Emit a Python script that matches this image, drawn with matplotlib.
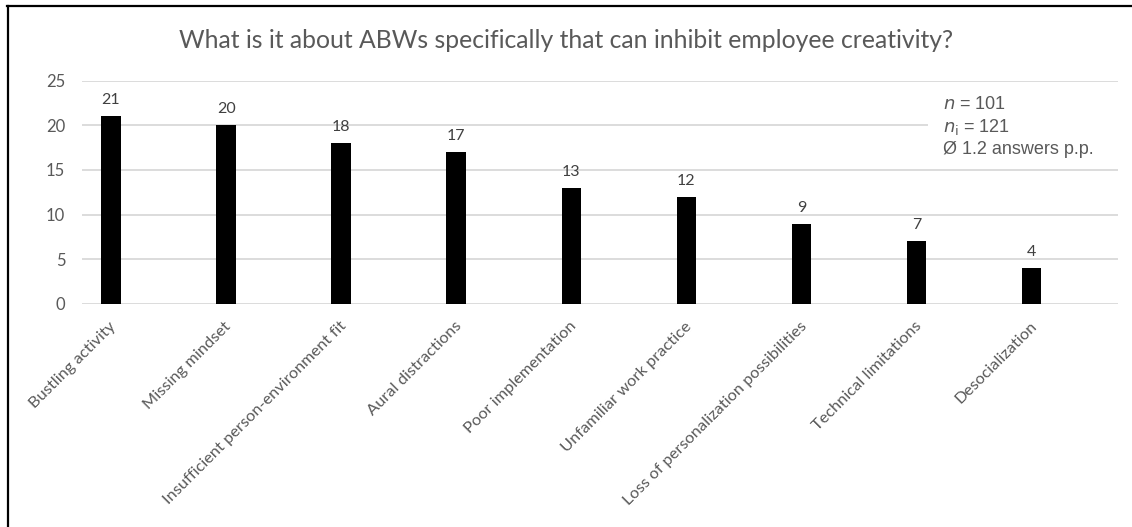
import matplotlib.pyplot as plt
from matplotlib.patches import Rectangle
from matplotlib.lines import Line2D
from matplotlib.transforms import ScaledTranslation

plt.rcParams['font.family'] = ['Lato', 'DejaVu Sans']

categories = ["Bustling activity", "Missing mindset", "Insufficient person-environment fit",
              "Aural distractions", "Poor implementation", "Unfamiliar work practice",
              "Loss of personalization possibilities", "Technical limitations", "Desocialization"]
counts = [21, 20, 18, 17, 13, 12, 9, 7, 4]
yticks = [0, 5, 10, 15, 20, 25]

W, H = 1132, 527
fig = plt.figure(figsize=(W / 100, H / 100), dpi=100)
ax = fig.add_axes([82 / W, 1 - 304 / H, (1118 - 82) / W, (304 - 80.5) / H])

x = list(range(len(categories)))
ax.bar(x, counts, width=0.17, color='black', zorder=3)
for xi, v in zip(x, counts):
    ax.text(xi, v + 1.0, str(v), ha='center', va='bottom', fontsize=11.5, color='#404040')

# first bar sits close to the left end, plot area runs on past the last one
ax.set_xlim(-0.252, len(categories) - 1 + 0.75)
ax.set_ylim(0, 25)
ax.set_yticks(yticks)
ax.yaxis.grid(True, color='#d9d9d9', linewidth=1.3, zorder=0)
ax.tick_params(axis='both', length=0, colors='#595959')
ax.tick_params(axis='y', pad=12, labelsize=12)
ax.tick_params(axis='x', pad=11, labelsize=11.8)
ax.set_xticks(x)
ax.set_xticklabels(categories, rotation=45, ha='right', rotation_mode='anchor')
for lab in ax.get_xticklabels():
    lab.set_transform(lab.get_transform() + ScaledTranslation(-2 / 100, 0, fig.dpi_scale_trans))
for s in ax.spines.values():
    s.set_visible(False)

# white box behind the sample note (hides the 20 gridline)
ax.add_patch(Rectangle((0.8164, 0.70), 0.19, 0.22, transform=ax.transAxes,
                       facecolor='white', edgecolor='none', zorder=4, clip_on=False))
ax.text(0.831, 0.792, "$n$ = 101\n$n_\\mathrm{i}$ = 121\nØ 1.2 answers p.p.",
        transform=ax.transAxes, ha='left', va='center', fontsize=13, color='#595959',
        family='Liberation Sans', linespacing=1.3, zorder=5)

fig.text(0.5, 1 - 48 / H, "What is it about ABWs specifically that can inhibit employee creativity?",
         ha='center', va='baseline', fontsize=17.8, color='#595959')

# frame: only top and left edges show
fig.add_artist(Line2D([7 / W, 1], [1 - 5.5 / H, 1 - 5.5 / H], transform=fig.transFigure,
                      color='black', linewidth=1.6))
fig.add_artist(Line2D([7.5 / W, 7.5 / W], [0, 1 - 5.5 / H], transform=fig.transFigure,
                      color='black', linewidth=1.6))

fig.savefig('out.png', dpi=100)
